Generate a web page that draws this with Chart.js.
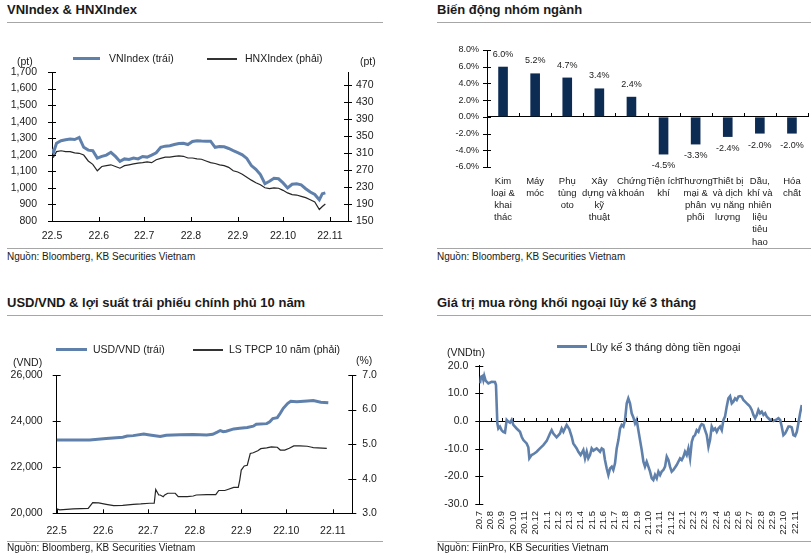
<!DOCTYPE html>
<html>
<head>
<meta charset="utf-8">
<script src="https://cdn.jsdelivr.net/npm/chart.js@4.4.1/dist/chart.umd.min.js"></script>
<style>
body{margin:0;width:811px;height:557px;position:relative;background:#fff;overflow:hidden;font-family:"Liberation Sans",Arial,sans-serif;color:#1a1a1a}
.a{position:absolute;white-space:nowrap;line-height:14px;z-index:2}
.title{font-weight:bold;font-size:13px}
.src{font-size:10px}
.lg{font-size:10.5px}
.rule{position:absolute;height:1px;background:#a6a6a6}
.sw{position:absolute;z-index:2}
canvas{position:absolute}
</style>
</head>
<body>

<div class="a title" style="left:7px;top:3px">VNIndex &amp; HNXIndex</div>
<div class="rule" style="left:7px;top:22px;width:376px"></div>
<div class="sw" style="left:73px;top:57px;width:27px;height:3px;background:#6080ac"></div>
<div class="a lg" style="left:109px;top:51px">VNIndex (trái)</div>
<div class="sw" style="left:207px;top:58px;width:30px;height:1.5px;background:#333"></div>
<div class="a lg" style="left:245px;top:51px">HNXIndex (phải)</div>
<div class="a lg" style="left:17px;top:54px">(pt)</div>
<div class="a lg" style="left:360px;top:54px">(pt)</div>
<div class="rule" style="left:7px;top:248px;width:376px"></div>
<div class="a src" style="left:7px;top:250px">Nguồn: Bloomberg, KB Securities Vietnam</div>

<div class="a title" style="left:437px;top:3px">Biến động nhóm ngành</div>
<div class="rule" style="left:437px;top:22px;width:374px"></div>
<div class="rule" style="left:437px;top:248px;width:374px"></div>
<div class="a src" style="left:437px;top:250px">Nguồn: Bloomberg, KB Securities Vietnam</div>

<div class="a title" style="left:7px;top:296px">USD/VND &amp; lợi suất trái phiếu chính phủ 10 năm</div>
<div class="rule" style="left:7px;top:315px;width:376px"></div>
<div class="sw" style="left:56px;top:348px;width:31px;height:3px;background:#6080ac"></div>
<div class="a lg" style="left:93px;top:342px">USD/VND (trái)</div>
<div class="sw" style="left:193px;top:349px;width:30px;height:1.5px;background:#333"></div>
<div class="a lg" style="left:229px;top:342px">LS TPCP 10 năm (phải)</div>
<div class="a lg" style="left:13px;top:355px">(VND)</div>
<div class="a lg" style="left:356px;top:353px">(%)</div>
<div class="rule" style="left:7px;top:541px;width:376px"></div>
<div class="a src" style="left:7px;top:541px">Nguồn: Bloomberg, KB Securities Vietnam</div>

<div class="a title" style="left:437px;top:296px">Giá trị mua ròng khối ngoại lũy kế 3 tháng</div>
<div class="rule" style="left:437px;top:315px;width:374px"></div>
<div class="sw" style="left:557px;top:345px;width:30px;height:3px;background:#6080ac"></div>
<div class="a" style="left:590px;top:340px;font-size:11px">Lũy kế 3 tháng dòng tiền ngoại</div>
<div class="a lg" style="left:447px;top:345px">(VNDtn)</div>
<div class="rule" style="left:437px;top:541px;width:374px"></div>
<div class="a src" style="left:437px;top:541px">Nguồn: FiinPro, KB Securities Vietnam</div>

<canvas id="c1" width="405" height="190" style="left:0;top:60px"></canvas>
<canvas id="c2" width="406" height="210" style="left:405px;top:40px"></canvas>
<canvas id="c3" width="405" height="180" style="left:0;top:362px"></canvas>
<canvas id="c4" width="406" height="200" style="left:405px;top:355px"></canvas>

<script>
// VNIndex & HNXIndex, days since 1 May 2022
const idxDays = [0,1,3,6,9,12,15,18,21,24,27,30,33,36,39,42,45,48,51,54,57,60,63,66,69,72,75,78,81,84,87,90,93,96,99,102,105,108,111,114,117,120,123,126,129,132,135,138,141,144,147,150,153,156,159,162,165,168,171,174,177,179,181];
const vnIndex = [1235,1215,1270,1285,1291,1295,1292,1305,1245,1228,1225,1180,1190,1198,1215,1190,1160,1175,1172,1180,1175,1190,1186,1198,1212,1245,1252,1255,1262,1268,1270,1262,1280,1285,1283,1282,1282,1245,1250,1248,1238,1225,1213,1200,1178,1135,1112,1080,1025,1040,1058,1055,1030,1000,1022,1025,1018,995,975,960,928,965,970];
const hnxIndex = [303,300,313,315,313,313,310,309,305,291,283,268,278,280,282,278,274,280,282,284,286,287,289,287,294,297,300,300,302,303,302,298,298,296,295,291,287,285,282,280,276,268,265,260,253,246,240,235,228,226,228,227,222,216,212,211,208,205,200,195,177,184,190];

const monthDays = [0,31,61,92,123,153,184];
const monthLabels = ['22.5','22.6','22.7','22.8','22.9','22.10','22.11'];
const vnTicks = [800,900,1000,1100,1200,1300,1400,1500,1600,1700];
const hnxTicks = [150,190,230,270,310,350,390,430,470];

// sector moves
const sectorLabels = [
  ['Kim','loại &','khai','thác'],
  ['Máy','móc'],
  ['Phụ','tùng','oto'],
  ['Xây','dựng và','kỹ','thuật'],
  ['Chứng','khoán'],
  ['Tiện ích','khí'],
  ['Thương','mại &','phân','phối'],
  ['Thiết bị','và dịch','vụ năng','lượng'],
  ['Dầu,','khí và','nhiên','liệu','tiêu','hao'],
  ['Hóa','chất']
];
const sectorChange = [6.0,5.2,4.7,3.4,2.4,-4.5,-3.3,-2.4,-2.0,-2.0];
const pctTicks = [-6,-4,-2,0,2,4,6,8];

// USD/VND & 10y bond yield
const usdDays = [0,11,22,33,44,47,51,58,62,69,73,82,91,100,104,107,109,111,113,118,122,127,131,133,140,142,144,147,149,151,154,156,160,167,171,176,181];
const usdVnd = [23180,23180,23175,23240,23300,23350,23370,23440,23400,23330,23385,23410,23420,23400,23430,23520,23590,23540,23560,23660,23690,23720,23780,23860,23890,23970,24110,24150,24340,24555,24770,24860,24840,24870,24890,24820,24800];
const bondDays = [0,2,11,21,24,28,33,38,44,51,56,62,65,66,68,69,71,72,74,79,81,87,91,93,100,106,108,112,114,118,121,122,123,125,127,129,131,134,136,140,143,147,149,152,155,158,162,167,170,171,180];
const bondYield = [3.13,3.10,3.13,3.14,3.31,3.30,3.26,3.22,3.23,3.26,3.27,3.29,3.29,3.69,3.53,3.53,3.48,3.53,3.58,3.58,3.48,3.48,3.50,3.53,3.54,3.54,3.66,3.66,3.69,3.75,3.75,3.96,4.25,4.37,4.39,4.73,4.75,4.81,4.87,4.89,4.92,4.91,4.83,4.83,4.88,4.95,4.95,4.94,4.91,4.90,4.88];
const usdTicks = [20000,22000,24000,26000];
const bondTicks = [3,4,5,6,7];

// foreign net buying, months since Jul 2020
const flowX = [
  0.06,0.15,0.27,0.36,0.44,0.56,0.80,1.09,1.39,1.48,
  1.60,1.69,1.83,1.98,2.13,2.28,2.43,2.57,2.72,2.87,
  3.02,3.31,3.61,3.76,3.91,4.20,4.35,4.44,4.64,4.79,
  5.09,5.38,5.68,5.98,6.27,6.42,6.57,6.86,7.16,7.31,
  7.46,7.75,7.99,8.20,8.34,8.64,8.79,8.99,9.23,9.38,
  9.53,9.67,9.82,9.97,10.12,10.41,10.71,10.86,11.01,11.15,
  11.30,11.45,11.60,11.75,11.89,12.04,12.19,12.34,12.49,12.63,
  12.78,12.93,13.08,13.22,13.37,13.52,13.67,13.82,13.96,14.11,
  14.26,14.41,14.56,14.70,14.85,15.00,15.15,15.30,15.44,15.59,
  15.74,15.89,16.04,16.18,16.33,16.48,16.63,16.78,16.92,17.07,
  17.22,17.51,17.81,17.96,18.11,18.25,18.40,18.55,18.70,18.85,
  18.99,19.14,19.29,19.44,19.59,19.73,19.88,20.03,20.18,20.33,
  20.47,20.62,20.77,20.92,21.07,21.21,21.36,21.51,21.66,21.80,
  21.95,22.10,22.25,22.40,22.54,22.69,22.84,22.99,23.14,23.28,
  23.43,23.58,23.73,23.88,24.02,24.17,24.32,24.47,24.62,24.76,
  24.91,25.06,25.21,25.36,25.50,25.65,25.80,25.95,26.09,26.39,
  26.54,26.69,26.83,26.98,27.13,27.28,27.43,27.57,27.72,27.87,
  28.02,28.17,28.31,28.46,28.61
];
const flowY = [
  13.6,16.0,16.3,14.8,16.3,14.6,13.6,14.2,14.1,13.0,
  -0.8,-2.7,-2.0,-3.3,-3.9,-4.2,0.4,-0.2,-0.6,0.4,
  -1.4,-2.7,-3.9,-5.7,-6.9,-8.1,-9.5,-13.5,-12.3,-12.0,
  -11.1,-9.9,-8.7,-7.2,-4.5,-3.3,-4.5,-5.9,-4.5,-2.7,
  -3.9,-1.4,-3.0,-5.7,-8.1,-9.9,-11.1,-12.3,-10.5,-13.5,
  -11.1,-13.5,-12.3,-9.9,-10.7,-9.9,-11.1,-9.9,-10.3,-14.1,
  -17.1,-19.5,-17.1,-16.5,-17.7,-15.3,-9.9,-6.9,-2.7,-1.4,
  -2.0,0.4,6.4,8.2,6.4,2.8,1.3,-0.8,0.4,-3.3,
  -6.9,-10.5,-14.7,-16.5,-14.7,-16.5,-18.3,-20.7,-21.3,-19.5,
  -20.7,-18.3,-19.5,-18.3,-17.7,-16.5,-12.9,-14.1,-16.5,-18.3,
  -17.7,-15.9,-13.5,-14.1,-12.9,-11.1,-12.3,-9.9,-13.5,-7.5,
  -5.7,-5.1,-3.3,-3.9,-2.0,-1.1,-1.4,-3.3,-5.1,-9.3,
  -6.9,-2.0,-3.3,-2.7,-3.9,-2.7,-2.0,-3.3,0.4,1.6,
  5.2,8.2,9.0,6.4,7.0,8.2,7.6,8.8,9.0,8.8,
  7.6,7.0,6.4,5.8,5.2,4.0,2.2,1.0,2.2,4.0,
  2.8,3.4,2.2,2.8,1.6,1.0,0.4,0.6,0.0,0.6,
  1.0,0.4,-2.0,-5.1,-4.5,-3.3,-2.0,-2.0,-2.3,-5.1,
  -5.4,-3.9,-0.8,2.8,5.8
];
const flowMonthLabels = ['20.7','20.8','20.9','20.10','20.11','20.12','21.1','21.2','21.3','21.4','21.5','21.6','21.7','21.8','21.9','21.10','21.11','21.12','22.1','22.2','22.3','22.4','22.5','22.6','22.7','22.8','22.9','22.10','22.11'];
const flowTicks = [-30,-20,-10,0,10,20];

const BLUE = '#6080ac';
const DARK = '#262626';
const NAVY = '#0d2c54';

Chart.defaults.font.family = '"Liberation Sans", Arial, sans-serif';
Chart.defaults.font.size = 10.5;
Chart.defaults.color = '#1a1a1a';
Chart.defaults.animation = false;
Chart.defaults.responsive = false;
Chart.defaults.plugins.legend.display = false;
Chart.defaults.plugins.tooltip.enabled = false;

// fixed axis sizes so the plot boxes land where the reference has them
function fixW(w){ return s => { s.width = w; s.paddingTop = 0; s.paddingBottom = 0; }; }
function fixH(h){ return s => { s.height = h; s.paddingLeft = 0; s.paddingRight = 0; }; }
function setTicks(vals){ return s => { s.ticks = vals.map(v => ({value: v})); }; }
function pts(xs, ys){ return xs.map((x, i) => ({x: x, y: ys[i]})); }
const noGrid = {drawOnChartArea: false, drawTicks: false};
const zeroGrid = {drawTicks: false, color: c => c.tick && c.tick.value === 0 ? '#000' : 'rgba(0,0,0,0)'};
const axisLine = {color: '#000', width: 1};

// small excel-like tick marks, config kept in a closure
function tickMarks(marks){
  return {
    id: 'tickMarks',
    afterDatasetsDraw(chart){
      const ctx = chart.ctx, area = chart.chartArea;
      ctx.save();
      ctx.strokeStyle = '#000';
      ctx.lineWidth = 1;
      marks.forEach(m => {
        const s = chart.scales[m.scale];
        const vals = m.values || s.ticks.map(t => t.value);
        vals.forEach(v => {
          const p = Math.round(s.getPixelForValue(v)) + 0.5;
          ctx.beginPath();
          if(s.isHorizontal()){
            const y = m.atZero ? Math.round(chart.scales[m.atZero].getPixelForValue(0)) : area.bottom;
            ctx.moveTo(p, y - m.len); ctx.lineTo(p, y);
          } else {
            const x = s.position === 'left' ? area.left : area.right;
            ctx.moveTo(x - m.len, p); ctx.lineTo(x + m.len, p);
          }
          ctx.stroke();
        });
      });
      ctx.restore();
    }
  };
}

const barLabels = {
  id: 'barLabels',
  afterDatasetsDraw(chart){
    const ctx = chart.ctx;
    const vals = chart.data.datasets[0].data;
    ctx.save();
    ctx.font = '9px "Liberation Sans", Arial, sans-serif';
    ctx.fillStyle = '#1a1a1a';
    ctx.textAlign = 'center';
    ctx.textBaseline = 'middle';
    chart.getDatasetMeta(0).data.forEach((bar, i) => {
      const v = vals[i];
      ctx.fillText(v.toFixed(1) + '%', bar.x, v >= 0 ? bar.y - 12.5 : bar.y + 11.5);
    });
    ctx.restore();
  }
};

new Chart(document.getElementById('c1'), {
  type: 'line',
  data: {
    datasets: [
      { data: pts(idxDays, vnIndex), yAxisID: 'y', borderColor: BLUE, borderWidth: 3, pointRadius: 0 },
      { data: pts(idxDays, hnxIndex), yAxisID: 'y1', borderColor: DARK, borderWidth: 1.2, pointRadius: 0 }
    ]
  },
  options: {
    layout: { padding: { top: 12, right: 0, bottom: 0, left: 0 } },
    scales: {
      x: { type: 'linear', min: 0, max: 196, afterFit: fixH(29), afterBuildTicks: setTicks(monthDays),
           ticks: { autoSkip: false, maxRotation: 0, padding: 9, callback: (v, i) => monthLabels[i] },
           grid: noGrid, border: axisLine },
      y: { position: 'left', min: 800, max: 1700, afterFit: fixW(52), afterBuildTicks: setTicks(vnTicks),
           ticks: { autoSkip: false, padding: 15, callback: v => v.toLocaleString('en-US') }, grid: noGrid, border: axisLine },
      y1: { position: 'right', min: 150, max: 500, afterFit: fixW(57), afterBuildTicks: setTicks(hnxTicks),
            ticks: { autoSkip: false, padding: 8 }, grid: noGrid, border: axisLine }
    }
  },
  plugins: [tickMarks([ {scale: 'y', len: 4}, {scale: 'y1', len: 4}, {scale: 'x', len: 4} ])]
});

new Chart(document.getElementById('c2'), {
  type: 'bar',
  data: {
    labels: sectorLabels,
    datasets: [{ data: sectorChange, backgroundColor: NAVY, barPercentage: 0.3, categoryPercentage: 1 }]
  },
  options: {
    layout: { padding: { top: 10, right: 3, bottom: 0, left: 0 } },
    scales: {
      x: { afterFit: fixH(83), ticks: { autoSkip: false, maxRotation: 0, padding: 8, font: { size: 9.5, lineHeight: 1.28 } },
           grid: { display: false, drawTicks: false }, border: { display: false } },
      y: { min: -6, max: 8, afterFit: fixW(82), afterBuildTicks: setTicks(pctTicks),
           ticks: { autoSkip: false, padding: 8, font: { size: 9 }, callback: v => v.toFixed(1) + '%' },
           grid: zeroGrid, border: axisLine }
    }
  },
  plugins: [tickMarks([ {scale: 'y', len: 4},
    {scale: 'x', atZero: 'y', len: 4, values: [-0.5,0.5,1.5,2.5,3.5,4.5,5.5,6.5,7.5,8.5,9.5]} ]), barLabels]
});

new Chart(document.getElementById('c3'), {
  type: 'line',
  data: {
    datasets: [
      { data: pts(usdDays, usdVnd), yAxisID: 'y', borderColor: BLUE, borderWidth: 3, pointRadius: 0 },
      { data: pts(bondDays, bondYield), yAxisID: 'y1', borderColor: DARK, borderWidth: 1.2, pointRadius: 0 }
    ]
  },
  options: {
    layout: { padding: { top: 13, right: 0, bottom: 0, left: 0 } },
    scales: {
      x: { type: 'linear', min: 0, max: 197, afterFit: fixH(28.7), afterBuildTicks: setTicks(monthDays),
           ticks: { autoSkip: false, maxRotation: 0, padding: 12, callback: (v, i) => monthLabels[i] },
           grid: noGrid, border: axisLine },
      y: { position: 'left', min: 20000, max: 26000, afterFit: fixW(56.7), afterBuildTicks: setTicks(usdTicks),
           ticks: { autoSkip: false, padding: 14, callback: v => v.toLocaleString('en-US') }, grid: noGrid, border: axisLine },
      y1: { position: 'right', min: 3, max: 7, afterFit: fixW(52.7), afterBuildTicks: setTicks(bondTicks),
            ticks: { autoSkip: false, padding: 10, callback: v => v.toFixed(1) }, grid: noGrid, border: axisLine }
    }
  },
  plugins: [tickMarks([ {scale: 'y', len: 4}, {scale: 'y1', len: 4}, {scale: 'x', len: 4} ])]
});

new Chart(document.getElementById('c4'), {
  type: 'line',
  data: {
    datasets: [
      { data: pts(flowX, flowY), borderColor: BLUE, borderWidth: 2.6, pointRadius: 0 }
    ]
  },
  options: {
    layout: { padding: { top: 10.7, right: 9, bottom: 0, left: 0 } },
    scales: {
      x: { type: 'linear', min: 0, max: 28.63, afterFit: fixH(51), afterBuildTicks: setTicks(flowMonthLabels.map((l, i) => i)),
           ticks: { autoSkip: false, minRotation: 90, maxRotation: 90, padding: 7, font: { size: 9.5 }, callback: (v, i) => flowMonthLabels[i] },
           grid: { display: false, drawTicks: false }, border: { display: false } },
      y: { min: -30, max: 20, afterFit: fixW(74.3), afterBuildTicks: setTicks(flowTicks),
           ticks: { autoSkip: false, padding: 11, callback: v => v.toFixed(1) }, grid: zeroGrid, border: axisLine }
    }
  },
  plugins: [tickMarks([ {scale: 'y', len: 4}, {scale: 'x', atZero: 'y', len: 3} ])]
});
</script>
</body>
</html>
